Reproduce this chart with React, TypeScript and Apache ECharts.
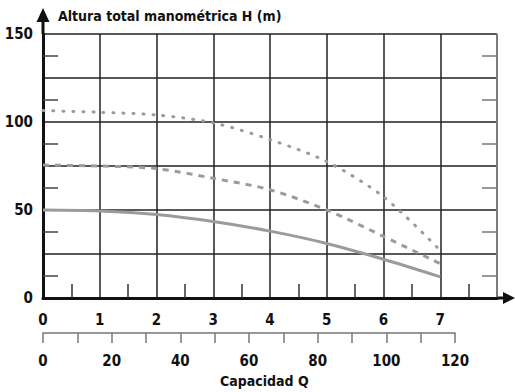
import React, { useEffect, useRef } from "react";
import * as echarts from "echarts";

const qValues = [0, 1, 2, 3, 4, 5, 6, 7];
const headSolid = [50, 49.5, 47.5, 43.5, 38, 31, 22, 12];
const headDashed = [75.5, 75, 73.5, 68, 61.5, 50, 35, 19.5];
const headDotted = [106.5, 105.5, 104, 99.5, 90, 77.5, 57.5, 27];
const yTicks = [0, 50, 100, 150];
const title = "Altura total manométrica H (m)";
const xTitle = "Capacidad Q";

const FONT = "'Liberation Sans Narrow', 'DejaVu Sans Condensed', sans-serif";
const GRAY = "#9b9b9b";

export default function App() {
  const ref = useRef<HTMLDivElement>(null);
  useEffect(() => {
    if (!ref.current) return;
    const chart = echarts.init(ref.current, undefined, { renderer: "svg" });
    const pairs = (ys: number[]) => qValues.map((q, i) => [q, ys[i]]);
    const labelStyle = { fontFamily: FONT, fontWeight: "bold" as const, fontSize: 15, color: "#111" };
    chart.setOption({
      animation: false,
      title: [
        { text: title, left: 58, top: 9, padding: 0, textStyle: { fontFamily: FONT, fontWeight: "bold", fontSize: 14, color: "#111" } },
        { text: xTitle, left: 220, top: 374, padding: 0, textStyle: { fontFamily: FONT, fontWeight: "bold", fontSize: 14, color: "#111" } },
      ],
      grid: [
        { left: 43, top: 34, width: 454, height: 264 },
        { left: 43, top: 332, width: 412, height: 1 },
      ],
      xAxis: [
        {
          type: "value", gridIndex: 0, min: 0, max: 8, interval: 1,
          axisLine: { show: true, lineStyle: { color: "#111", width: 3 } },
          axisTick: { show: false, inside: true },
          minorTick: { show: true, splitNumber: 2, length: 14, lineStyle: { color: "#333", width: 1.5 } },
          splitLine: { show: true, lineStyle: { color: "#222", width: 1.5 } },
          axisLabel: { ...labelStyle, margin: 14, showMaxLabel: true, formatter: (v: number) => (v <= 7 ? String(v) : "") },
        },
        {
          type: "value", gridIndex: 1, min: 0, max: 120, interval: 10,
          axisLine: { show: true, lineStyle: { color: "#777", width: 1.5 } },
          axisTick: { show: true, length: 10, lineStyle: { color: "#777", width: 1.5 } },
          splitLine: { show: false },
          axisLabel: { ...labelStyle, margin: 20, formatter: (v: number) => (v % 20 === 0 ? String(v) : "") },
        },
      ],
      yAxis: [
        {
          type: "value", gridIndex: 0, min: 0, max: 150, interval: 25,
          axisLine: { show: true, lineStyle: { color: "#111", width: 3 } },
          axisTick: { show: false, inside: true },
          minorTick: { show: true, splitNumber: 2, length: 15, lineStyle: { color: "#444", width: 1.5 } },
          splitLine: { show: true, lineStyle: { color: "#222", width: 1.5 } },
          axisLabel: { ...labelStyle, margin: 10, formatter: (v: number) => (yTicks.includes(v) ? String(v) : "") },
        },
        {
          type: "value", gridIndex: 0, position: "right", min: 0, max: 150, interval: 25,
          axisLine: { show: true, lineStyle: { color: "#888", width: 1.5 } },
          axisTick: { show: false, inside: true },
          minorTick: { show: true, splitNumber: 2, length: 15, lineStyle: { color: "#777", width: 1.5 } },
          splitLine: { show: false },
          axisLabel: { show: false },
        },
        { type: "value", gridIndex: 1, show: false, min: 0, max: 1 },
      ],
      series: [
        {
          type: "line", xAxisIndex: 0, yAxisIndex: 0, data: pairs(headSolid), smooth: 0.3, symbol: "none",
          lineStyle: { color: GRAY, width: 3 },
        },
        {
          type: "line", xAxisIndex: 0, yAxisIndex: 0, data: pairs(headDashed), smooth: 0.3, symbol: "none",
          lineStyle: { color: GRAY, width: 3, type: [6, 6] },
        },
        {
          type: "line", xAxisIndex: 0, yAxisIndex: 0, data: pairs(headDotted), smooth: 0.3, symbol: "none",
          lineStyle: { color: GRAY, width: 3, type: [1, 9], cap: "round" },
        },
      ],
      graphic: [
        { type: "line", shape: { x1: 43, y1: 34, x2: 43, y2: 20 }, style: { stroke: "#111", lineWidth: 3 } },
        { type: "polygon", shape: { points: [[43, 8], [36.5, 22], [49.5, 22]] }, style: { fill: "#111" } },
        { type: "line", shape: { x1: 497, y1: 298, x2: 505, y2: 298 }, style: { stroke: "#111", lineWidth: 3 } },
        { type: "polygon", shape: { points: [[515, 298], [503, 292], [503, 304]] }, style: { fill: "#111" } },
      ],
    });
    return () => chart.dispose();
  }, []);
  return <div ref={ref} style={{ position: "fixed", left: 0, top: 0, width: 515, height: 392, background: "#fff" }} />;
}
